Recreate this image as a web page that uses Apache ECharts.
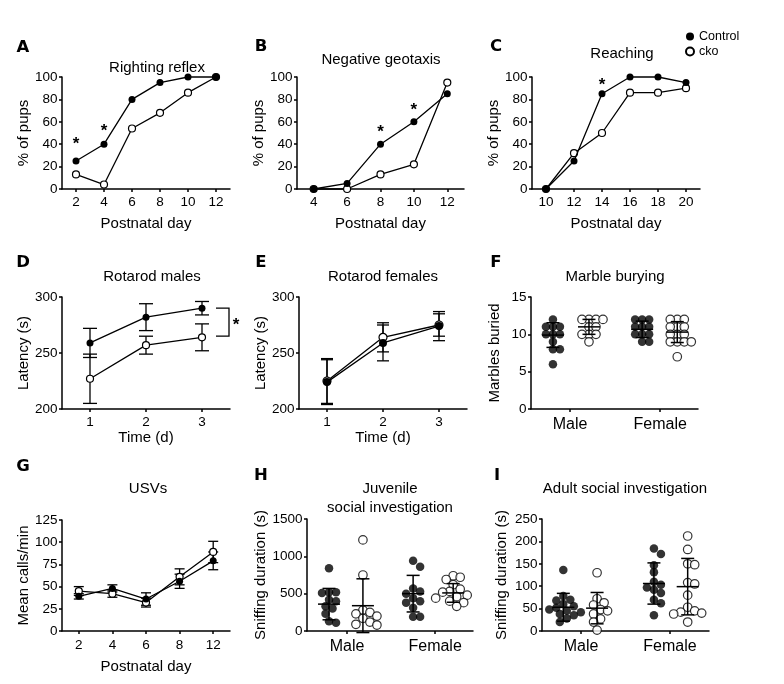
<!DOCTYPE html>
<html><head><meta charset="utf-8">
<script src="https://cdn.jsdelivr.net/npm/echarts@6/dist/echarts.min.js"></script>
<style>html,body{margin:0;padding:0;background:#fff}#c{width:784px;height:684px}</style>
</head><body><div id="c"></div><script>
const FONT = '"Liberation Sans", Arial, Helvetica, sans-serif';
const LETTER_FONT = '"DejaVu Sans", "Liberation Sans", sans-serif';

// ---- A: Righting reflex ----
const daysA = ['2','4','6','8','10','12'];
const ctrlA = [25,40,80,95,100,100];
const ckoA  = [13,4,54,68,86,100];
const starsA = [[0,43],[1,54]];
// ---- B: Negative geotaxis ----
const daysB = ['4','6','8','10','12'];
const ctrlB = [0,5,40,60,85];
const ckoB  = [0,0,13,22,95];
const starsB = [[2,53],[3,73]];
// ---- C: Reaching ----
const daysC = ['10','12','14','16','18','20'];
const ctrlC = [0,25,85,100,100,95];
const ckoC  = [0,32,50,86,86,90];
const starsC = [[2,95]];
// ---- D: Rotarod males ----
const timeD = ['1','2','3'];
const ctrlD = [259,282,290];
const ctrlDErr = [13,12,6];
const ckoD = [227,257,264];
const ckoDErr = [22,8,12];
const bracketD = [[2,290,265]];
// ---- E: Rotarod females ----
const timeE = ['1','2','3'];
const ctrlE = [224,259,274];
const ctrlEErr = [20,16,13];
const ckoE = [225,264,275];
const ckoEErr = [20,13,10];
// ---- F: Marble burying ----
const fMaleCtrl = [12,11,11,11,10,10,10,9,8,8,6];
const fMaleCko  = [12,12,12,12,11,11,10,10,10,9];
const fFemCtrl  = [12,12,12,11,11,11,10,10,10,9,9];
const fFemCko   = [12,12,12,11,11,11,10,10,10,9,9,9,9,7];
const fMeanSd   = [[9.9,1.65],[11.0,1.0],[10.67,1.1],[10.3,1.4]];
// ---- G: USVs ----
const daysG = ['2','4','6','8','12'];
const ctrlG = [39,48,36,56,79];
const ctrlGErr = [3,4,7,8,10];
const ckoG = [45,42,32,61,89];
const ckoGErr = [5,4,5,9,12];
// ---- H: Juvenile social investigation ----
const hMaleCtrl = [840,520,520,510,420,400,330,300,230,130,110];
const hMaleCko  = [1220,750,280,250,230,200,170,120,90,80];
const hFemCtrl  = [940,860,570,530,500,440,400,380,310,190,190];
const hFemCko   = [740,720,690,620,560,530,520,480,460,440,400,380,330];
const hMeanSd   = [[360,210],[339,360],[500,245],[510,125]];
// ---- I: Adult social investigation ----
const iMaleCtrl = [136,78,70,68,60,55,52,48,45,42,38,35,28,20];
const iMaleCko  = [130,72,63,58,48,45,38,27,20,2];
const iFemCtrl  = [184,172,147,131,110,103,97,92,85,70,62,35];
const iFemCko   = [212,182,150,148,108,105,80,53,45,42,40,38,20];
const iMeanSd   = [[53,31],[51,35],[106,46],[99,63]];
const groupLabels = ['Male','Female'];

// ---------- layout ----------
const grids = [
  {left:62, top:77, width:168, height:112},
  {left:297, top:77, width:167, height:112},
  {left:532, top:77, width:168, height:112},
  {left:62, top:297, width:168, height:112},
  {left:299, top:297, width:168, height:112},
  {left:531, top:297, width:167, height:112},
  {left:62, top:520, width:168, height:111},
  {left:307, top:519, width:166, height:112},
  {left:542, top:519, width:167, height:112}
];
const BLK = '#000';
const axLine = {show:true, onZero:false, lineStyle:{color:BLK, width:1.5}};
const axTick = {show:true, length:3, lineStyle:{color:BLK, width:1.5}};
const nameStyle = {fontSize:15, color:BLK, fontFamily:FONT};

function yAx(i, min, max, interval, name, gap){
  return {gridIndex:i, type:'value', min, max, interval, name, nameLocation:'middle', nameGap:gap,
    nameTextStyle:nameStyle, axisLine:axLine, axisTick:axTick,
    axisLabel:{color:BLK, fontSize:13.5, fontFamily:FONT, margin:4.5, formatter:v => String(v)}, splitLine:{show:false}};
}
function xCat(i, cats, name, gap, margin){
  return {gridIndex:i, type:'category', data:cats, boundaryGap:true, name, nameLocation:'middle', nameGap:gap,
    nameTextStyle:nameStyle, axisLine:axLine, axisTick:Object.assign({alignWithLabel:true}, axTick),
    axisLabel:{color:BLK, fontSize:13.5, fontFamily:FONT, margin, interval:0}, splitLine:{show:false}};
}
function xGrp(i, min, max){
  return {gridIndex:i, type:'value', min, max, axisLine:axLine,
    axisTick:Object.assign({customValues:[1,3]}, axTick),
    axisLabel:{customValues:[1,3], formatter:v => (v===1?groupLabels[0]:groupLabels[1]), color:BLK, fontSize:16, fontFamily:FONT, margin:7.5},
    splitLine:{show:false}};
}

const openStyle = {color:'#fff', borderColor:BLK, borderWidth:1.2};
const fillStyle = {color:BLK, borderColor:BLK, borderWidth:0};

function linePair(i, cko, ctrl, sym){
  const base = {type:'line', xAxisIndex:i, yAxisIndex:i, symbol:'circle', symbolSize:sym, showAllSymbol:true,
    lineStyle:{color:BLK, width:1.3}, clip:false, emphasis:{disabled:true}, animation:false};
  return [
    Object.assign({}, base, {name:'cko', data:cko, itemStyle:openStyle, z:3}),
    Object.assign({}, base, {name:'Control', data:ctrl, itemStyle:fillStyle, z:4})
  ];
}
function errSeries(i, means, errs, halfCap){
  return {type:'custom', xAxisIndex:i, yAxisIndex:i, z:2, silent:true, clip:false,
    data: means.map((m,k)=>[k, m, errs[k]]),
    renderItem:(params, api)=>{
      const x = api.value(0), m = api.value(1), e = api.value(2);
      const t = api.coord([x, m+e]), b = api.coord([x, m-e]);
      const st = {stroke:BLK, lineWidth:1.3, fill:null};
      return {type:'group', children:[
        {type:'line', shape:{x1:t[0], y1:t[1], x2:b[0], y2:b[1]}, style:st},
        {type:'line', shape:{x1:t[0]-halfCap, y1:t[1], x2:t[0]+halfCap, y2:t[1]}, style:st},
        {type:'line', shape:{x1:b[0]-halfCap, y1:b[1], x2:b[0]+halfCap, y2:b[1]}, style:st}
      ]};
    }};
}
function starSeries(i, stars){
  return {type:'custom', xAxisIndex:i, yAxisIndex:i, z:5, silent:true, clip:false, data:stars,
    renderItem:(params, api)=>{
      const p = api.coord([api.value(0), api.value(1)]);
      return {type:'text', x:p[0], y:p[1]+3, style:{text:'*', fill:BLK, fontSize:17, fontWeight:'bold', fontFamily:FONT, textAlign:'center', textVerticalAlign:'middle'}};
    }};
}
function bracketSeries(i, data){
  return {type:'custom', xAxisIndex:i, yAxisIndex:i, z:5, silent:true, clip:false, data,
    renderItem:(params, api)=>{
      const a = api.coord([api.value(0), api.value(1)]);
      const b = api.coord([api.value(0), api.value(2)]);
      const x0 = a[0]+14, x1 = a[0]+27;
      return {type:'group', children:[
        {type:'polyline', shape:{points:[[x0,a[1]],[x1,a[1]],[x1,b[1]],[x0,b[1]]]}, style:{stroke:BLK, lineWidth:1.3, fill:null}},
        {type:'text', x:x1+7, y:(a[1]+b[1])/2+3, style:{text:'*', fill:BLK, fontSize:17, fontWeight:'bold', fontFamily:FONT, textAlign:'center', textVerticalAlign:'middle'}}
      ]};
    }};
}
// deterministic beeswarm placement of points around a group centre
function swarm(vals, cx, pxX, pxY, d){
  const placed = [], out = [];
  const step = d/2;
  vals.slice().sort((a,b)=>b-a).forEach(v=>{
    const yp = v*pxY;
    for (let k=0;k<60;k++){
      const m = k===0 ? 0 : (k%2===1 ? Math.ceil(k/2) : -Math.ceil(k/2));
      const xp = m*step;
      if (placed.every(p => (p[0]-xp)*(p[0]-xp) + (p[1]-yp)*(p[1]-yp) >= d*d)){
        placed.push([xp,yp]); out.push([cx + xp/pxX, v]); break;
      }
    }
  });
  return out;
}
function groupPanel(i, xmin, xmax, ymax, centers, groups, meanSd){
  const g = grids[i];
  const pxX = g.width/(xmax-xmin), pxY = g.height/ymax;
  const filled = [].concat(swarm(groups[0], centers[0], pxX, pxY, 7), swarm(groups[2], centers[2], pxX, pxY, 7));
  const open = [].concat(swarm(groups[1], centers[1], pxX, pxY, 7), swarm(groups[3], centers[3], pxX, pxY, 7));
  const base = {type:'scatter', xAxisIndex:i, yAxisIndex:i, symbol:'circle', symbolSize:8.5, clip:false, emphasis:{disabled:true}};
  return [
    Object.assign({}, base, {name:'ctrl'+i, data:filled, itemStyle:fillStyle, z:3}),
    Object.assign({}, base, {name:'cko'+i, data:open, itemStyle:openStyle, z:3}),
    {type:'custom', xAxisIndex:i, yAxisIndex:i, z:6, silent:true, clip:false,
      data: meanSd.map((ms,k)=>[centers[k], ms[0], ms[1]]),
      renderItem:(params, api)=>{
        const x = api.value(0), m = api.value(1), s = api.value(2);
        const c = api.coord([x,m]), t = api.coord([x,m+s]), b = api.coord([x,m-s]);
        const st = {stroke:BLK, lineWidth:1.5, fill:null};
        return {type:'group', children:[
          {type:'line', shape:{x1:c[0]-11, y1:c[1], x2:c[0]+11, y2:c[1]}, style:st},
          {type:'line', shape:{x1:t[0], y1:t[1], x2:b[0], y2:b[1]}, style:st},
          {type:'line', shape:{x1:t[0]-6.5, y1:t[1], x2:t[0]+6.5, y2:t[1]}, style:st},
          {type:'line', shape:{x1:b[0]-6.5, y1:b[1], x2:b[0]+6.5, y2:b[1]}, style:st}
        ]};
      }}
  ];
}

function txt(x, y, text, size, weight, family){
  return {type:'text', x, y, silent:true, style:{text, fill:BLK, fontSize:size, fontWeight:weight||'normal', fontFamily:family||FONT, textAlign:'center', textVerticalAlign:'middle'}};
}
function letter(x, y, t){ return txt(x, y, t, 16.5, 'bold', LETTER_FONT); }

const xAxis = [
  xCat(0, daysA, 'Postnatal day', 27, 6),
  xCat(1, daysB, 'Postnatal day', 27, 6),
  xCat(2, daysC, 'Postnatal day', 27, 6),
  xCat(3, timeD, 'Time (d)', 21, 6),
  xCat(4, timeE, 'Time (d)', 21, 6),
  xGrp(5, 0.133, 3.84),
  xCat(6, daysG, 'Postnatal day', 28, 7.5),
  xGrp(7, 0.09, 3.86),
  xGrp(8, 0.12, 3.88)
];
const yAxis = [
  yAx(0, 0, 100, 20, '% of pups', 28),
  yAx(1, 0, 100, 20, '% of pups', 30),
  yAx(2, 0, 100, 20, '% of pups', 30),
  yAx(3, 200, 300, 50, 'Latency (s)', 28),
  yAx(4, 200, 300, 50, 'Latency (s)', 30),
  yAx(5, 0, 15, 5, 'Marbles buried', 29),
  yAx(6, 0, 125, 25, 'Mean calls/min', 28),
  yAx(7, 0, 1500, 500, 'Sniffing duration (s)', 38),
  yAx(8, 0, 250, 50, 'Sniffing duration (s)', 33)
];

const series = [].concat(
  linePair(0, ckoA, ctrlA, 7), [starSeries(0, starsA)],
  linePair(1, ckoB, ctrlB, 7), [starSeries(1, starsB)],
  linePair(2, ckoC, ctrlC, 7), [starSeries(2, starsC)],
  [errSeries(3, ckoD, ckoDErr, 7), errSeries(3, ctrlD, ctrlDErr, 7)], linePair(3, ckoD, ctrlD, 7), [bracketSeries(3, bracketD)],
  [errSeries(4, ckoE, ckoEErr, 6), errSeries(4, ctrlE, ctrlEErr, 6)], linePair(4, ckoE, ctrlE, 8),
  groupPanel(5, 0.133, 3.84, 15, [0.62,1.42,2.6,3.38], [fMaleCtrl, fMaleCko, fFemCtrl, fFemCko], fMeanSd),
  [errSeries(6, ckoG, ckoGErr, 5), errSeries(6, ctrlG, ctrlGErr, 5)], linePair(6, ckoG, ctrlG, 7),
  groupPanel(7, 0.09, 3.86, 1500, [0.59,1.36,2.5,3.41], [hMaleCtrl, hMaleCko, hFemCtrl, hFemCko], hMeanSd),
  groupPanel(8, 0.12, 3.88, 250, [0.6,1.36,2.64,3.4], [iMaleCtrl, iMaleCko, iFemCtrl, iFemCko], iMeanSd)
);

const graphic = [
  letter(23,48,'A'), letter(261,47,'B'), letter(496,47,'C'),
  letter(23,263,'D'), letter(261,263,'E'), letter(496,263,'F'),
  letter(23,467,'G'), letter(261,476,'H'), letter(497,476,'I'),
  txt(157,68,'Righting reflex',15), txt(381,60,'Negative geotaxis',15), txt(622,54,'Reaching',15),
  txt(152,277,'Rotarod males',15), txt(383,277,'Rotarod females',15), txt(615,277,'Marble burying',15),
  txt(148,489,'USVs',15), txt(390,489,'Juvenile',15), txt(390,508,'social investigation',15),
  txt(625,489,'Adult social investigation',15)
];

const chart = echarts.init(document.getElementById('c'));
chart.setOption({
  animation:false,
  backgroundColor:'#fff',
  textStyle:{fontFamily:FONT},
  grid:grids,
  xAxis, yAxis, series, graphic,
  legend:{data:['Control','cko'], orient:'vertical', left:680, top:25, icon:'circle', itemWidth:8, itemHeight:8, itemGap:2,
    selectedMode:false, textStyle:{fontSize:12.5, color:BLK, fontFamily:FONT}}
});
</script></body></html>
